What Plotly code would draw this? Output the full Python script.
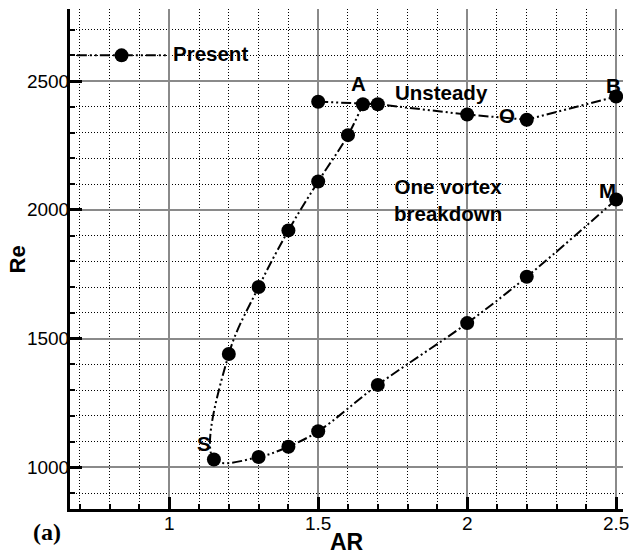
import plotly.graph_objects as go

# Critical Reynolds number versus aspect ratio
# Lower boundary: from M down through the turning point S and up to A
BOUNDARY_AR = [2.5, 2.2, 2.0, 1.7, 1.5, 1.4, 1.3, 1.15, 1.2, 1.3, 1.4, 1.5, 1.6, 1.65]
BOUNDARY_RE = [2040, 1740, 1560, 1320, 1140, 1080, 1040, 1030, 1440, 1700, 1920, 2110, 2290, 2410]

# Upper boundary: onset of unsteadiness
UNSTEADY_AR = [1.5, 1.7, 2.0, 2.2, 2.5]
UNSTEADY_RE = [2420, 2410, 2370, 2350, 2440]

# Legend key sample: a short line with one symbol in the middle
KEY_AR = [0.69, 0.99]
KEY_RE = [2600, 2600]
KEY_SYMBOL_AR = [0.84]
KEY_SYMBOL_RE = [2600]
KEY_LABEL = "Present"

# Point labels
POINT_TEXT = ["A", "B", "O", "M", "S"]
POINT_AR = [1.636, 2.49, 2.134, 2.47, 1.117]
POINT_RE = [2492, 2484, 2368, 2074, 1094]

# Region labels
REGION_TEXT = ["Unsteady", "One vortex<br>breakdown"]
REGION_AR = [1.915, 1.937]
REGION_RE = [2457, 2037]

X_RANGE = [0.667, 2.523]
Y_RANGE = [838, 2780]

DASH = "10px,3px,2px,3px,2px,3px"
FONT = "Liberation Sans, Arial, Helvetica, sans-serif"
MARKER_SIZE = 14

fig = go.Figure()

fig.add_trace(go.Scatter(
    x=BOUNDARY_AR, y=BOUNDARY_RE, mode="lines+markers",
    line=dict(color="black", width=2, dash=DASH, shape="spline", smoothing=1.0),
    marker=dict(color="black", size=MARKER_SIZE),
    showlegend=False,
))
fig.add_trace(go.Scatter(
    x=UNSTEADY_AR, y=UNSTEADY_RE, mode="lines+markers",
    line=dict(color="black", width=2, dash=DASH),
    marker=dict(color="black", size=MARKER_SIZE),
    showlegend=False,
))
fig.add_trace(go.Scatter(
    x=KEY_AR, y=KEY_RE, mode="lines",
    line=dict(color="black", width=2, dash=DASH),
    showlegend=False,
))
fig.add_trace(go.Scatter(
    x=KEY_SYMBOL_AR, y=KEY_SYMBOL_RE, mode="markers",
    marker=dict(color="black", size=MARKER_SIZE),
    showlegend=False,
))

label_font = dict(family=FONT, size=20.5, color="black")

annotations = []
annotations.append(dict(
    x=KEY_AR[-1] + 0.015, y=KEY_RE[0] + 8, text=f"<b>{KEY_LABEL}</b>",
    xanchor="left", yanchor="middle", showarrow=False, font=label_font,
))
for t, xa, yr in zip(POINT_TEXT, POINT_AR, POINT_RE):
    annotations.append(dict(
        x=xa, y=yr, text=f"<b>{t}</b>", showarrow=False,
        xanchor="center", yanchor="middle", font=label_font,
    ))
for t, xa, yr in zip(REGION_TEXT, REGION_AR, REGION_RE):
    annotations.append(dict(
        x=xa, y=yr, text=f"<b>{t}</b>", showarrow=False, align="center",
        xanchor="center", yanchor="middle", font=label_font,
    ))

# Axis titles and panel tag
annotations.append(dict(
    xref="paper", yref="paper", x=-0.095, y=0.5, text="<b>Re</b>",
    textangle=-90, showarrow=False, xanchor="center", yanchor="middle",
    font=dict(family=FONT, size=22, color="black"),
))
annotations.append(dict(
    xref="paper", yref="paper", x=0.5, y=-0.066, text="<b>AR</b>",
    showarrow=False, xanchor="center", yanchor="middle",
    font=dict(family=FONT, size=23, color="black"),
))
annotations.append(dict(
    xref="paper", yref="paper", x=-0.0416, y=-0.046, text="<b>(a)</b>",
    showarrow=False, xanchor="center", yanchor="middle",
    font=dict(family="Liberation Serif, Times New Roman, serif", size=24, color="black"),
))

axis_common = dict(
    showline=True, linewidth=3, linecolor="black", mirror=False,
    ticks="inside", ticklen=12, tickwidth=3, tickcolor="black",
    showgrid=True, gridcolor="#8a8a8a", gridwidth=1.5,
    zeroline=False, ticklabeloverflow="allow", automargin=False,
    tickfont=dict(family=FONT, size=19, color="black"),
)

fig.update_xaxes(
    range=X_RANGE, tick0=0, dtick=0.5,
    minor=dict(dtick=0.1, tick0=0, ticks="inside", ticklen=5, tickwidth=1.5,
               tickcolor="black", showgrid=True, gridcolor="black",
               griddash="1px,2px", gridwidth=1),
    ticklabelstandoff=-5,
    **axis_common,
)
fig.update_yaxes(
    range=Y_RANGE, tick0=0, dtick=500,
    minor=dict(dtick=100, tick0=0, ticks="inside", ticklen=5, tickwidth=1.5,
               tickcolor="black", showgrid=True, gridcolor="black",
               griddash="1px,2px", gridwidth=1),
    ticklabelstandoff=-6,
    **axis_common,
)

fig.update_layout(
    width=629, height=556,
    margin=dict(l=70, r=6, t=9, b=47),
    paper_bgcolor="white", plot_bgcolor="white",
    annotations=annotations,
    showlegend=False,
)

fig.write_html("out.html")
